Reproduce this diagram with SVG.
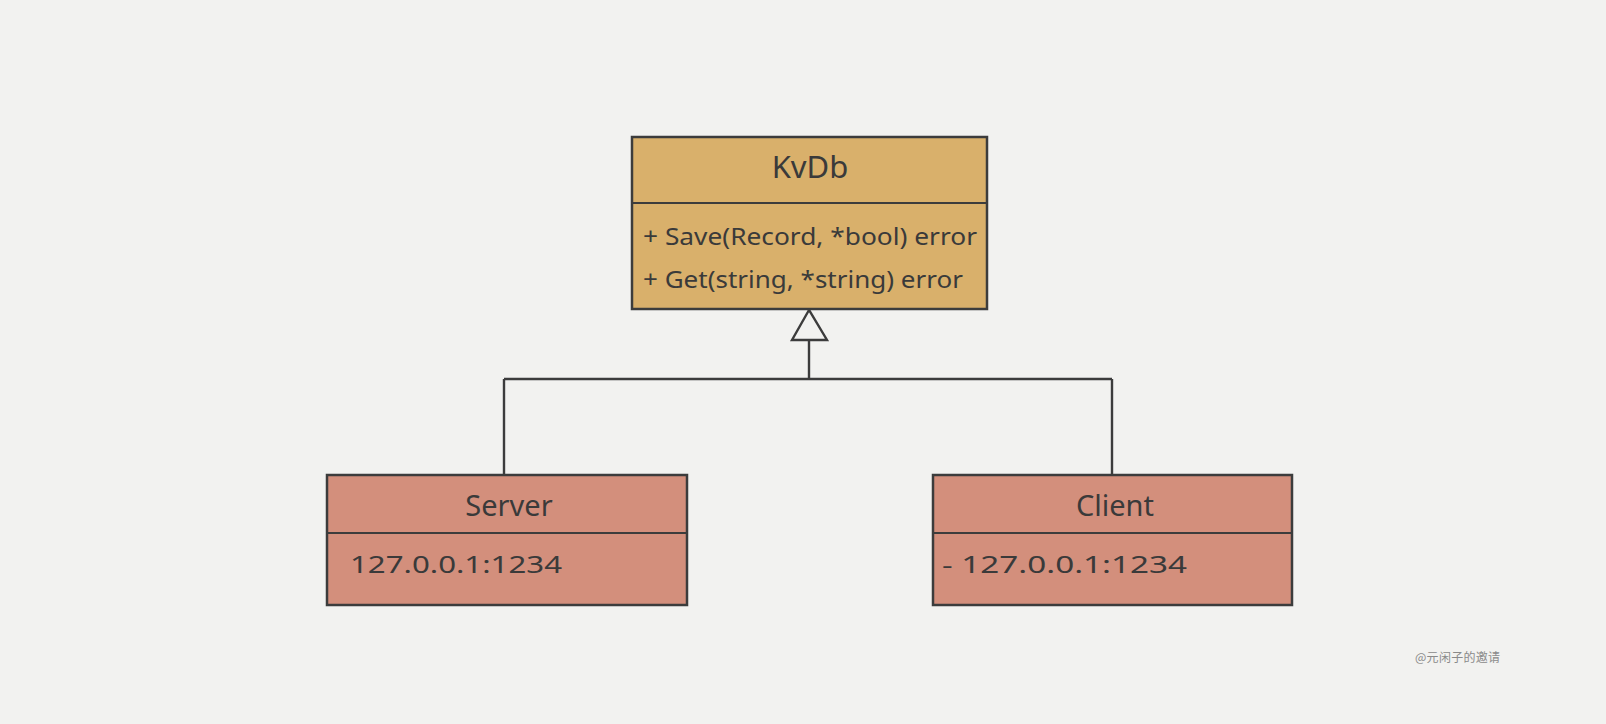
<svg xmlns="http://www.w3.org/2000/svg" width="1606" height="724" viewBox="0 0 1606 724">
  <style>
    .box { stroke: #3c3c3c; stroke-width: 2.5; }
    .div { stroke: #3c3c3c; stroke-width: 2; fill: none; }
    .title { font-family: "Noto Sans", "Liberation Sans", sans-serif; font-size: 31px; fill: #3a3a3a; text-anchor: middle; }
    .field { font-family: "Noto Sans", "Liberation Sans", sans-serif; font-size: 23px; fill: #3a3a3a; }
    .conn { stroke: #3c3c3c; stroke-width: 2.4; fill: none; }
    .wm { font-family: "Noto Sans CJK SC", "Noto Sans", sans-serif; font-size: 12px; fill: #8a8a8a; }
  </style>
  <rect x="0" y="0" width="1606" height="724" fill="#f2f2f0"/>

  <g id="connectors">
    <path class="conn" d="M809 340 L809 379"/>
    <path class="conn" d="M504 379 L1112 379"/>
    <path class="conn" d="M504 379 L504 475"/>
    <path class="conn" d="M1112 379 L1112 475"/>
    <polygon class="conn" points="809,310 792,340 827,340" fill="#f2f2f0"/>
  </g>

  <g id="KvDb">
    <rect class="box" x="632" y="137" width="355" height="172" fill="#d9b06b"/>
    <line class="div" x1="632" y1="203" x2="987" y2="203"/>
    <text class="title" x="810" y="178">KvDb</text>
    <text class="field" x="643" y="245" textLength="334" lengthAdjust="spacingAndGlyphs">+ Save(Record, *bool) error</text>
    <text class="field" x="643" y="288" textLength="320" lengthAdjust="spacingAndGlyphs">+ Get(string, *string) error</text>
  </g>

  <g id="Server">
    <rect class="box" x="327" y="475" width="360" height="130" fill="#d38f7c"/>
    <line class="div" x1="327" y1="533" x2="687" y2="533"/>
    <text class="title" x="509" y="516" style="font-size:29px">Server</text>
    <text class="field" x="350" y="573" textLength="212" lengthAdjust="spacingAndGlyphs">127.0.0.1:1234</text>
  </g>

  <g id="Client">
    <rect class="box" x="933" y="475" width="359" height="130" fill="#d38f7c"/>
    <line class="div" x1="933" y1="533" x2="1292" y2="533"/>
    <text class="title" x="1115" y="516" style="font-size:29px">Client</text>
    <text class="field" x="942" y="573" textLength="245" lengthAdjust="spacingAndGlyphs">- 127.0.0.1:1234</text>
  </g>

  <g id="watermark">
    <text class="wm" x="1415" y="662" textLength="85">@元闲子的邀请</text>
  </g>
</svg>
